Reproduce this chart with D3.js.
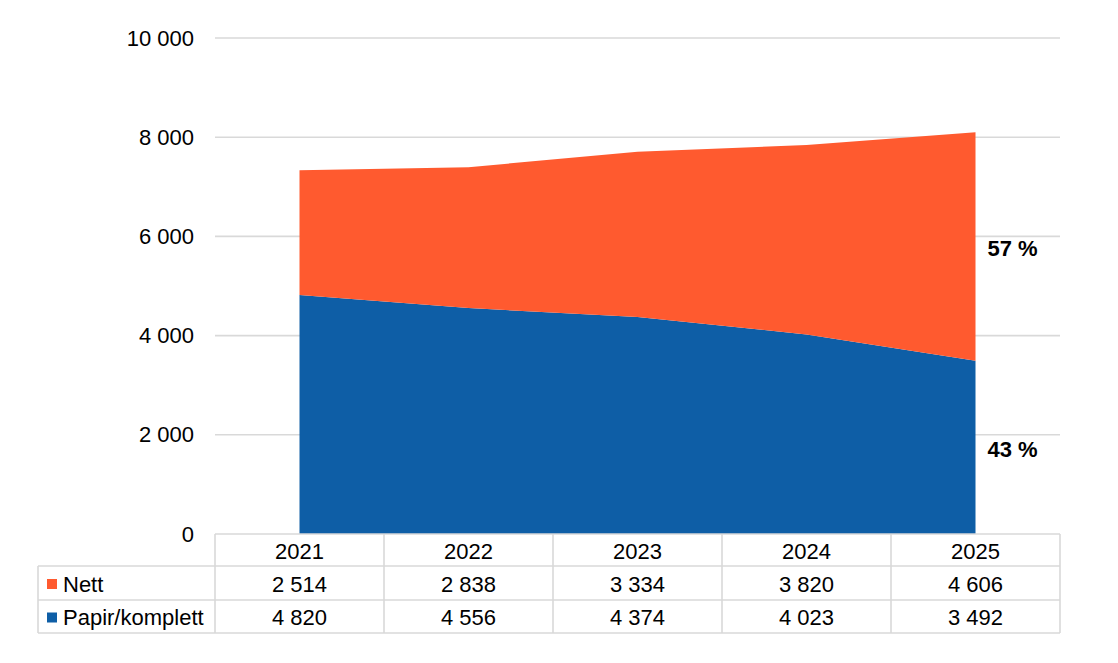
<!DOCTYPE html>
<html><head><meta charset="utf-8">
<script src="https://cdn.jsdelivr.net/npm/d3@7"></script>
<style>body{margin:0;background:#fff}svg{display:block;font-family:"Liberation Sans",Arial,sans-serif}</style>
</head><body><svg id="c" width="1118" height="663"></svg>
<script>
const years = ["2021","2022","2023","2024","2025"];
const seriesNames = ["Papir/komplett","Nett"];
const papir = [4820, 4556, 4374, 4023, 3492];
const nett = [2514, 2838, 3334, 3820, 4606];
const yTicks = [0, 2000, 4000, 6000, 8000, 10000];
const colors = {"Nett":"#ff5a2f","Papir/komplett":"#0e5ea6"};

const svg = d3.select("#c");
const plotLeft = 215, plotRight = 1060, plotTop = 38, plotBottom = 534;
const fs = 22;
const grid = "#d9d9d9";
const fmt = v => d3.format(",")(v).replace(/,/g, " ");

const x = d3.scaleBand().domain(years).range([plotLeft, plotRight]);
const y = d3.scaleLinear().domain([0, 10000]).range([plotBottom, plotTop]);

const rows = years.map((yr, i) => ({year: yr, "Papir/komplett": papir[i], "Nett": nett[i]}));
const stack = d3.stack().keys(seriesNames)(rows);

// gridlines
svg.append("g").selectAll("line").data(yTicks.filter(t => t > 0)).join("line")
  .attr("x1", plotLeft).attr("x2", plotRight)
  .attr("y1", d => y(d)).attr("y2", d => y(d))
  .attr("stroke", grid).attr("stroke-width", 1.6);

// areas
const area = d3.area()
  .x(d => x(d.data.year) + x.bandwidth() / 2)
  .y0(d => y(d[0])).y1(d => y(d[1]));
svg.append("g").selectAll("path").data(stack).join("path")
  .attr("d", area).attr("fill", d => colors[d.key]);

// y axis labels
const yAxis = d3.axisLeft(y).tickValues(yTicks).tickFormat(fmt).tickSize(0).tickPadding(21);
const ga = svg.append("g").attr("transform", `translate(${plotLeft},0)`).call(yAxis);
ga.select(".domain").remove();
ga.selectAll("text").attr("font-size", fs).attr("fill", "#000")
  .attr("font-family", '"Liberation Sans",Arial,sans-serif');

// percentage labels at last point
const last = years.length - 1;
const total = papir[last] + nett[last];
stack.forEach(s => {
  const d = s[last];
  svg.append("text")
    .attr("x", x(years[last]) + x.bandwidth() / 2 + 12)
    .attr("y", y((d[0] + d[1]) / 2) + 1.5)
    .attr("dy", "0.35em")
    .attr("font-size", fs).attr("font-weight", "bold")
    .text(Math.round((d[1] - d[0]) / total * 100) + " %");
});

// data table
const rowH = [534, 566, 600, 633];
const tableLeft = 38;
const tg = svg.append("g");
const ln = (x1, y1, x2, y2) => tg.append("line").attr("x1", x1).attr("y1", y1).attr("x2", x2).attr("y2", y2)
  .attr("stroke", grid).attr("stroke-width", 1.6);
ln(plotLeft, rowH[0], plotRight, rowH[0]);
ln(tableLeft, rowH[1], plotRight, rowH[1]);
ln(tableLeft, rowH[2], plotRight, rowH[2]);
ln(tableLeft, rowH[3], plotRight, rowH[3]);
ln(tableLeft, rowH[1], tableLeft, rowH[3]);
years.forEach(yr => ln(x(yr), rowH[0], x(yr), rowH[3]));
ln(plotRight, rowH[0], plotRight, rowH[3]);

tg.selectAll("text.h").data(years).join("text").attr("class", "h")
  .attr("x", d => x(d) + x.bandwidth() / 2).attr("y", (rowH[0] + rowH[1]) / 2 + 1)
  .attr("dy", "0.35em").attr("text-anchor", "middle").attr("font-size", fs).text(d => d);

const tableRows = [{name: "Nett", vals: nett}, {name: "Papir/komplett", vals: papir}];
tableRows.forEach((r, ri) => {
  const cy = (rowH[ri + 1] + rowH[ri + 2]) / 2 + 1;
  tg.append("rect").attr("x", 47).attr("y", cy - 5).attr("width", 10).attr("height", 10)
    .attr("fill", colors[r.name]);
  tg.append("text").attr("x", 63).attr("y", cy).attr("dy", "0.35em")
    .attr("font-size", fs).text(r.name);
  tg.selectAll(null).data(r.vals).join("text")
    .attr("x", (d, i) => x(years[i]) + x.bandwidth() / 2).attr("y", cy)
    .attr("dy", "0.35em").attr("text-anchor", "middle").attr("font-size", fs).text(d => fmt(d));
});
</script></body></html>
